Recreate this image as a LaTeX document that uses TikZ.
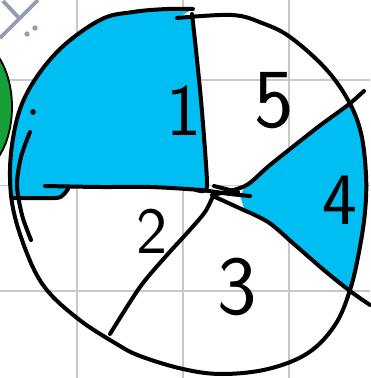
\documentclass[tikz,border=0pt]{standalone}
\definecolor{skyfill}{RGB}{0,190,242}
\definecolor{leaf}{RGB}{22,160,55}
\definecolor{gridgrey}{RGB}{200,200,200}
\definecolor{slate}{RGB}{150,155,178}
\tikzset{
  ink/.style={line width=4pt, black, line cap=round, line join=round},
  gridline/.style={line width=1.5pt, gridgrey},
  iconline/.style={line width=3.8pt, slate},
  digit/.style={font=\sffamily, inner sep=0pt, text=black}
}
\begin{document}
\begin{tikzpicture}[x=1pt,y=-1pt]
\useasboundingbox (0,0) rectangle (370,378);
\fill[white] (0,0) rectangle (370,378);
% grid
\foreach \gx in {77,183,289} \draw[gridline] (\gx,0) -- (\gx,378);
\foreach \gy in {80,185.5,291} \draw[gridline] (0,\gy) -- (370,\gy);
% grey icon corner
\draw[iconline] (0,38) -- (38,0);
\draw[iconline] (3,1) -- (20,19);
\fill[slate] (27,34) circle (2.7);
\fill[slate] (35,28) circle (2.7);
% green shape at left
\filldraw[fill=leaf, draw=black, line width=1.8pt] (-28,107) ellipse [x radius=40, y radius=67];
% blue sectors
\begin{scope}
\clip plot[smooth, tension=0.6] coordinates {(177,18) (232,15) (262,23) (290,37) (325,68) (348,100) (361,133) (366,175) (365,212) (359,252) (350,290) (335,325) (308,353) (268,369) (222,374) (183,369) (140,356) (115,343) (77,318) (43,285) (22,240) (11,195) (12,145) (25,97) (57,52) (100,20) (133,12) (167,9) (193,9)};
\fill[skyfill] (-10,-10) -- (193,-10) -- plot[smooth] coordinates {(193,12) (196,50) (201,100) (205,150) (207,189)} -- (68,188) -- (63,195) -- (55,198) -- (0,198) -- cycle;
\fill[skyfill] (240,196) -- plot[smooth] coordinates {(245,186) (270,165) (318,127) (348,105) (364,91)} -- (400,80) -- (400,310) -- plot[smooth] coordinates {(370,305) (350,291) (325,271) (295,245) (268,222) (245,211)} -- cycle;
\end{scope}
% rim
\draw[ink] plot[smooth, tension=0.6] coordinates {(177,18) (232,15) (262,23) (290,37) (325,68) (348,100) (361,133) (366,175) (365,212) (359,252) (350,290) (335,325) (308,353) (268,369) (222,374) (183,369) (140,356) (115,343) (77,318) (43,285) (22,240) (11,195) (12,145) (25,97) (57,52) (100,20) (133,12) (167,9) (193,9)};
% dividers
\draw[ink] plot[smooth] coordinates {(192,14) (196,50) (201,100) (205,150) (207,186) (203,191) (196,190)};
\draw[ink] plot[smooth] coordinates {(45,186) (100,187) (150,187) (200,190) (230,194) (250,196)};
\draw[ink] plot[smooth] coordinates {(13,198) (55,198) (63,195) (68,189)};
\draw[ink] plot[smooth] coordinates {(213,196) (205,212) (188,232) (167,255) (140,287) (110,334)};
\draw[ink] plot[smooth] coordinates {(212,195) (245,186) (270,165) (318,127) (348,105) (364,91)};
\draw[ink] plot[smooth] coordinates {(215,197) (237,207) (268,222) (295,245) (325,271) (350,291) (370,305)};
\draw[ink] (214,186) -- (238,192);
% left mark
\fill (33,112) circle (2.8);
\draw[ink] plot[smooth] coordinates {(30,132) (21,157) (17,185) (22,215) (31,240)};
% labels
\node[digit, font=\sffamily\fontsize{74}{74}\selectfont] (n1) at (184,111) {1};
\node[digit, font=\sffamily\fontsize{84}{84}\selectfont] (n5) at (274,101) {5};
\node[digit, font=\sffamily\fontsize{66}{66}\selectfont] (n2) at (152,231) {2};
\node[digit, font=\sffamily\fontsize{84}{84}\selectfont] (n3) at (237,287) {3};
\node[digit, font=\sffamily\fontsize{74}{74}\selectfont] (n4) at (340,200) {4};
\end{tikzpicture}
\end{document}
